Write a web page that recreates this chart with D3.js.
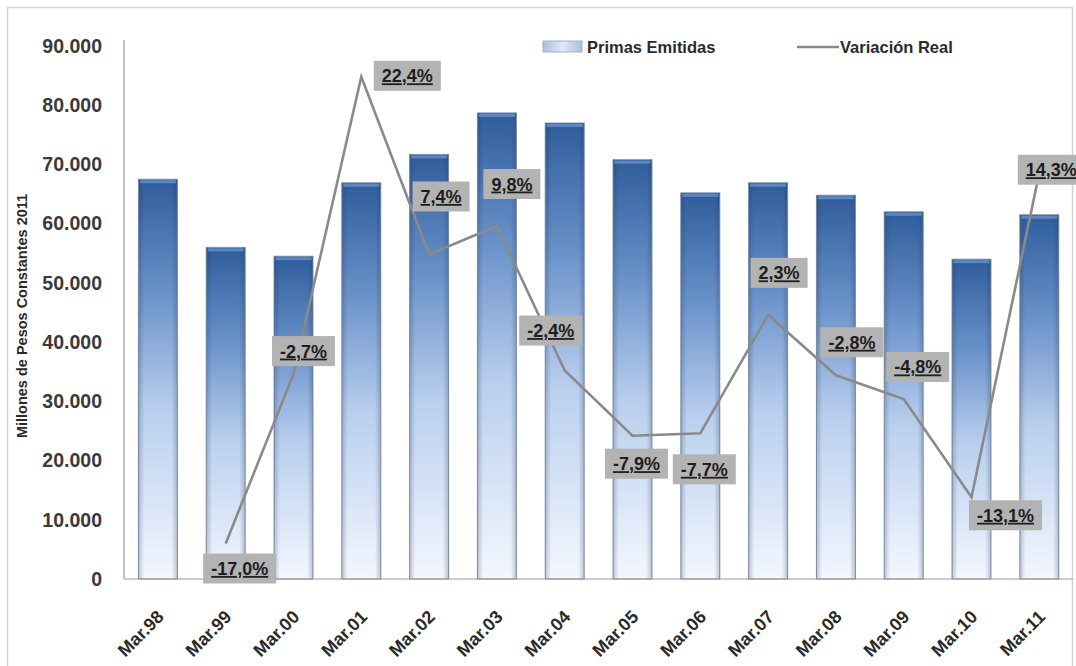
<!DOCTYPE html>
<html>
<head>
<meta charset="utf-8">
<script src="https://cdn.jsdelivr.net/npm/d3@7/dist/d3.min.js"></script>
<style>
  html, body { margin: 0; padding: 0; background: #fff; }
  svg { display: block; }
  text { font-family: "Liberation Sans", Arial, sans-serif; }
</style>
</head>
<body>
<svg id="chart" width="1076" height="666"></svg>
<script>
// ---- Data ----
const categories = ["Mar.98","Mar.99","Mar.00","Mar.01","Mar.02","Mar.03","Mar.04","Mar.05","Mar.06","Mar.07","Mar.08","Mar.09","Mar.10","Mar.11"];
const primasEmitidas = [67500, 56000, 54500, 66900, 71700, 78700, 77000, 70800, 65200, 66900, 64800, 62000, 54000, 61500];
const variacionReal = [null, -17.0, -2.7, 22.4, 7.4, 9.8, -2.4, -7.9, -7.7, 2.3, -2.8, -4.8, -13.1, 14.3];
const yTicks = [0, 10000, 20000, 30000, 40000, 50000, 60000, 70000, 80000, 90000];
const seriesNames = ["Primas Emitidas", "Variación Real"];
const yTitle = "Millones de Pesos Constantes 2011";

// label placement offsets (layout only), relative to each point
const labelOffsets = [null,[14,25],[10,-23],[46,-1],[12,-58],[15,-42],[-14,-40],[4,28],[4,36],[11,-42],[16,-33],[14,-32],[34,18],[12,-3]];

// ---- Layout ----
const svg = d3.select("#chart");
const plotL = 124, plotR = 1073.2, plotT = 46, plotB = 579;

const x = d3.scaleBand().domain(categories).range([plotL, plotR]).paddingInner(0.425).paddingOuter(0.2125);
const y = d3.scaleLinear().domain([0, 90000]).range([plotB, plotT]);
const y2 = d3.scaleLinear().domain([-20, 25]).range([plotB, plotT]);

const fmt = v => d3.format(",")(v).replace(/,/g, ".");
const pct = v => v.toFixed(1).replace(".", ",") + "%";

// defs
const defs = svg.append("defs");
const g1 = defs.append("linearGradient").attr("id","barV").attr("x1",0).attr("y1",0).attr("x2",0).attr("y2",1);
g1.append("stop").attr("offset","0%").attr("stop-color","#2f5d9b");
g1.append("stop").attr("offset","28%").attr("stop-color","#6991c9");
g1.append("stop").attr("offset","58%").attr("stop-color","#b9cfee");
g1.append("stop").attr("offset","100%").attr("stop-color","#f3f7fe");
const g2 = defs.append("linearGradient").attr("id","barH").attr("x1",0).attr("y1",0).attr("x2",1).attr("y2",0);
g2.append("stop").attr("offset","0%").attr("stop-color","#1c3050").attr("stop-opacity",0.25);
g2.append("stop").attr("offset","15%").attr("stop-color","#1c3050").attr("stop-opacity",0.0);
g2.append("stop").attr("offset","85%").attr("stop-color","#1c3050").attr("stop-opacity",0.0);
g2.append("stop").attr("offset","100%").attr("stop-color","#1c3050").attr("stop-opacity",0.25);
const g3 = defs.append("linearGradient").attr("id","legSw").attr("x1",0).attr("y1",0).attr("x2",1).attr("y2",0);
g3.append("stop").attr("offset","0%").attr("stop-color","#a9c0df");
g3.append("stop").attr("offset","50%").attr("stop-color","#dfe9f6");
g3.append("stop").attr("offset","100%").attr("stop-color","#a9c0df");

// frame
svg.append("rect").attr("x",7.5).attr("y",7.5).attr("width",1065).attr("height",680)
  .attr("fill","none").attr("stroke","#d4d4d4").attr("stroke-width",1.5);

// bars
const bars = svg.append("g");
bars.selectAll("rect.bar").data(primasEmitidas).join("rect")
  .attr("class","bar")
  .attr("x",(d,i)=>x(categories[i])).attr("width",x.bandwidth())
  .attr("y",d=>y(d)).attr("height",d=>y(0)-y(d))
  .attr("fill","url(#barV)").attr("stroke","#8494ad").attr("stroke-width",1);
bars.selectAll("rect.shade").data(primasEmitidas).join("rect")
  .attr("class","shade")
  .attr("x",(d,i)=>x(categories[i])).attr("width",x.bandwidth())
  .attr("y",d=>y(d)).attr("height",d=>y(0)-y(d))
  .attr("fill","url(#barH)");
bars.selectAll("rect.cap").data(primasEmitidas).join("rect")
  .attr("class","cap")
  .attr("x",(d,i)=>x(categories[i])+1.5).attr("width",x.bandwidth()-3)
  .attr("y",d=>y(d)+1).attr("height",3)
  .attr("fill","#5f8bc8").attr("opacity",0.9);

// axes
svg.append("line").attr("x1",plotL).attr("x2",plotL).attr("y1",plotT-6).attr("y2",plotB)
  .attr("stroke","#9a9a9a").attr("stroke-width",1.2);
svg.append("line").attr("x1",plotL).attr("x2",plotR).attr("y1",plotB).attr("y2",plotB)
  .attr("stroke","#9a9a9a").attr("stroke-width",1.2);

const yAxis = svg.append("g").attr("transform",`translate(${plotL},0)`)
  .call(d3.axisLeft(y).tickValues(yTicks).tickFormat(fmt).tickSize(0).tickPadding(22));
yAxis.select(".domain").remove();
yAxis.selectAll("text").attr("font-size","19.5px").attr("font-weight","bold").attr("fill","#3a3a3a")
  .attr("font-family","'Liberation Sans', Arial, sans-serif");

const xAxis = svg.append("g").attr("transform",`translate(0,${plotB})`)
  .call(d3.axisBottom(x).tickSize(0).tickPadding(0));
xAxis.select(".domain").remove();
xAxis.selectAll("text")
  .attr("font-size","18px").attr("font-weight","bold").attr("fill","#2a2a2a")
  .attr("font-family","'Liberation Sans', Arial, sans-serif")
  .attr("text-anchor","end")
  .attr("dy",null).attr("y",null)
  .attr("transform","translate(7,39) rotate(-45)");

// y title
svg.append("text").attr("transform","translate(27,316) rotate(-90)")
  .attr("text-anchor","middle").attr("font-size","14.5px").attr("font-weight","bold").attr("fill","#2a2a2a")
  .text(yTitle);

// line
const pts = variacionReal.map((v,i)=>({v,i})).filter(d=>d.v!==null);
const line = d3.line().x(d=>x(categories[d.i])+x.bandwidth()/2).y(d=>y2(d.v));
svg.append("path").datum(pts).attr("d",line).attr("fill","none")
  .attr("stroke","#8a8a8a").attr("stroke-width",2.6).attr("stroke-linejoin","miter");

// labels
const lab = svg.append("g");
pts.forEach(d=>{
  const off = labelOffsets[d.i];
  const cx = x(categories[d.i])+x.bandwidth()/2 + off[0];
  const cy = y2(d.v) + off[1];
  const g = lab.append("g").attr("transform",`translate(${cx},${cy})`);
  const t = g.append("text").attr("text-anchor","middle").attr("dy","0.36em")
    .attr("font-size","18px").attr("font-weight","bold").attr("fill","#1e1e1e")
    .attr("text-decoration","underline").text(pct(d.v));
  const bb = t.node().getBBox();
  g.insert("rect","text").attr("x",bb.x-8).attr("y",-15).attr("width",bb.width+16).attr("height",30)
    .attr("fill","#b3b3b3");
});

// legend
const leg = svg.append("g");
leg.append("rect").attr("x",543).attr("y",41).attr("width",39).attr("height",11)
  .attr("fill","url(#legSw)").attr("stroke","#9fb2cc").attr("stroke-width",1);
leg.append("text").attr("x",587).attr("y",53).attr("font-size","16.5px").attr("font-weight","bold")
  .attr("fill","#2a2a2a").text(seriesNames[0]);
leg.append("line").attr("x1",797).attr("x2",839).attr("y1",47).attr("y2",47)
  .attr("stroke","#8a8a8a").attr("stroke-width",2.4);
leg.append("text").attr("x",840).attr("y",53).attr("font-size","16.5px").attr("font-weight","bold")
  .attr("fill","#2a2a2a").text(seriesNames[1]);
</script>
</body>
</html>
